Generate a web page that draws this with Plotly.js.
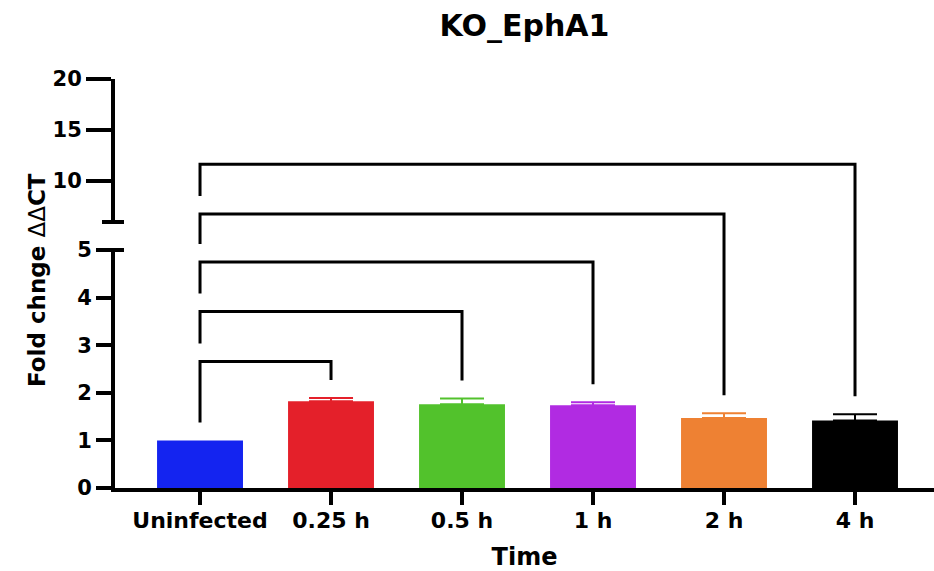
<!DOCTYPE html>
<html>
<head>
<meta charset="utf-8">
<script src="https://cdn.plot.ly/plotly-3.0.1.min.js"></script>
<style>html,body{margin:0;padding:0;background:#fff;}#chart{width:934px;height:571px;}</style>
</head>
<body>
<div id="chart"></div>
<script>
// ---- data ----
const categories = ['Uninfected', '0.25 h', '0.5 h', '1 h', '2 h', '4 h'];
const foldChange = [1.00, 1.82, 1.76, 1.74, 1.47, 1.42];
const errorUp    = [0.00, 0.07, 0.12, 0.06, 0.10, 0.13];
const barColors  = ['#1424F0', '#E4202A', '#52C22C', '#B12BE2', '#EE8133', '#000000'];
const bracketFrom   = ['Uninfected', 'Uninfected', 'Uninfected', 'Uninfected', 'Uninfected'];
const bracketTo     = ['0.25 h', '0.5 h', '1 h', '2 h', '4 h'];
const bracketHeight = [2.66, 3.71, 4.75, 6.78, 11.65];
const lowerRange = [0, 5];
const upperRange = [6, 20];
const lowerTicks = [0, 1, 2, 3, 4, 5];
const upperTicks = [10, 15, 20];

// ---- style constants ----
const FONT = 'DejaVu Sans';
const lowerDomain = [0, 0.5819];
const upperDomain = [0.6504, 1];
const legGap = 18;

const traces = categories.map((c, i) => ({
  type: 'bar',
  x: [c],
  y: [foldChange[i]],
  width: 0.656,
  marker: {color: barColors[i], line: {width: 0}},
  error_y: {
    type: 'data', symmetric: false, array: [errorUp[i]], arrayminus: [0],
    visible: errorUp[i] > 0, color: barColors[i], thickness: 2, width: 22
  },
  xaxis: 'x', yaxis: 'y',
  hoverinfo: 'skip', showlegend: false
}));
traces.push({type: 'scatter', mode: 'markers', x: [categories[0]], y: [null],
  xaxis: 'x', yaxis: 'y2', hoverinfo: 'skip', showlegend: false});

const tickFontY = {family: FONT, size: 21, color: '#000', weight: 'bold'};
const axisY = {
  showline: true, linewidth: 4, linecolor: '#000',
  ticks: 'outside', tickwidth: 4, tickcolor: '#000',
  tickfont: tickFontY, showgrid: false, zeroline: false,
  anchor: 'x', fixedrange: true, tickmode: 'array'
};

const layout = {
  width: 934, height: 571,
  margin: {l: 115, r: 0, t: 79, b: 83},
  paper_bgcolor: '#fff', plot_bgcolor: '#fff',
  barmode: 'overlay',
  showlegend: false,
  title: {
    text: 'KO_EphA1',
    font: {family: FONT, size: 30, color: '#000', weight: 'bold'},
    xref: 'paper', x: 0.5, xanchor: 'center',
    yref: 'container', y: 1 - 25 / 571, yanchor: 'middle'
  },
  xaxis: {
    type: 'category', categoryorder: 'array', categoryarray: categories,
    range: [-0.649, 5.603],
    showline: true, linewidth: 4, linecolor: '#000',
    ticks: 'outside', ticklen: 13, tickwidth: 4, tickcolor: '#000',
    ticklabelstandoff: -3,
    tickfont: {family: FONT, size: 22, color: '#000', weight: 'bold'},
    showgrid: false, zeroline: false, anchor: 'y', fixedrange: true,
    title: {text: 'Time', font: {family: FONT, size: 24, color: '#000', weight: 'bold'}, standoff: 18}
  },
  yaxis: Object.assign({}, axisY, {domain: lowerDomain, range: lowerRange, tickvals: lowerTicks, ticklen: 15}),
  yaxis2: Object.assign({}, axisY, {domain: upperDomain, range: upperRange, tickvals: upperTicks, ticklen: 25}),
  annotations: [{
    text: '<b>Fold chnge </b>ΔΔ<b>CT</b>',
    font: {family: FONT, size: 23, color: '#000'},
    textangle: -90, showarrow: false,
    xref: 'paper', x: 0, xanchor: 'center', xshift: -78,
    yref: 'paper', y: 0.5086, yanchor: 'middle'
  }],
  shapes: []
};

const gd = document.getElementById('chart');
Plotly.newPlot(gd, traces, layout, {staticPlot: true, displayModeBar: false}).then(() => {
  const fl = gd._fullLayout;
  const yL = fl.yaxis, yU = fl.yaxis2;
  const gs = fl._size;
  const yPix = v => (v <= lowerRange[1] ? yL._offset + yL.l2p(v) : yU._offset + yU.l2p(v));
  const toPaper = p => ((gs.t + gs.h - p) / gs.h);
  const idx = c => categories.indexOf(c);
  const topOf = c => { const i = idx(c); return yPix(foldChange[i] + errorUp[i]); };

  const shapes = [];
  // axis break caps
  [upperDomain[0], lowerDomain[1]].forEach(py => {
    shapes.push({type: 'line', xref: 'paper', yref: 'paper', xsizemode: 'pixel', xanchor: 0,
      x0: -13, x1: 9, y0: py, y1: py, line: {color: '#000', width: 4}});
  });
  // comparison brackets
  let belowPix = topOf(bracketFrom[0]);
  bracketTo.forEach((t, k) => {
    const hp = yPix(bracketHeight[k]);
    const leftBottom = belowPix - legGap;
    const rightBottom = topOf(t) - legGap;
    const i0 = idx(bracketFrom[k]), i1 = idx(t);
    const f = v => v.toFixed(5);
    shapes.push({
      type: 'path', xref: 'x', yref: 'paper',
      path: `M${i0},${f(toPaper(leftBottom))} L${i0},${f(toPaper(hp))} L${i1},${f(toPaper(hp))} L${i1},${f(toPaper(rightBottom))}`,
      line: {color: '#000', width: 3}
    });
    belowPix = hp;
  });
  return Plotly.relayout(gd, {shapes: shapes});
});
</script>
</body>
</html>
